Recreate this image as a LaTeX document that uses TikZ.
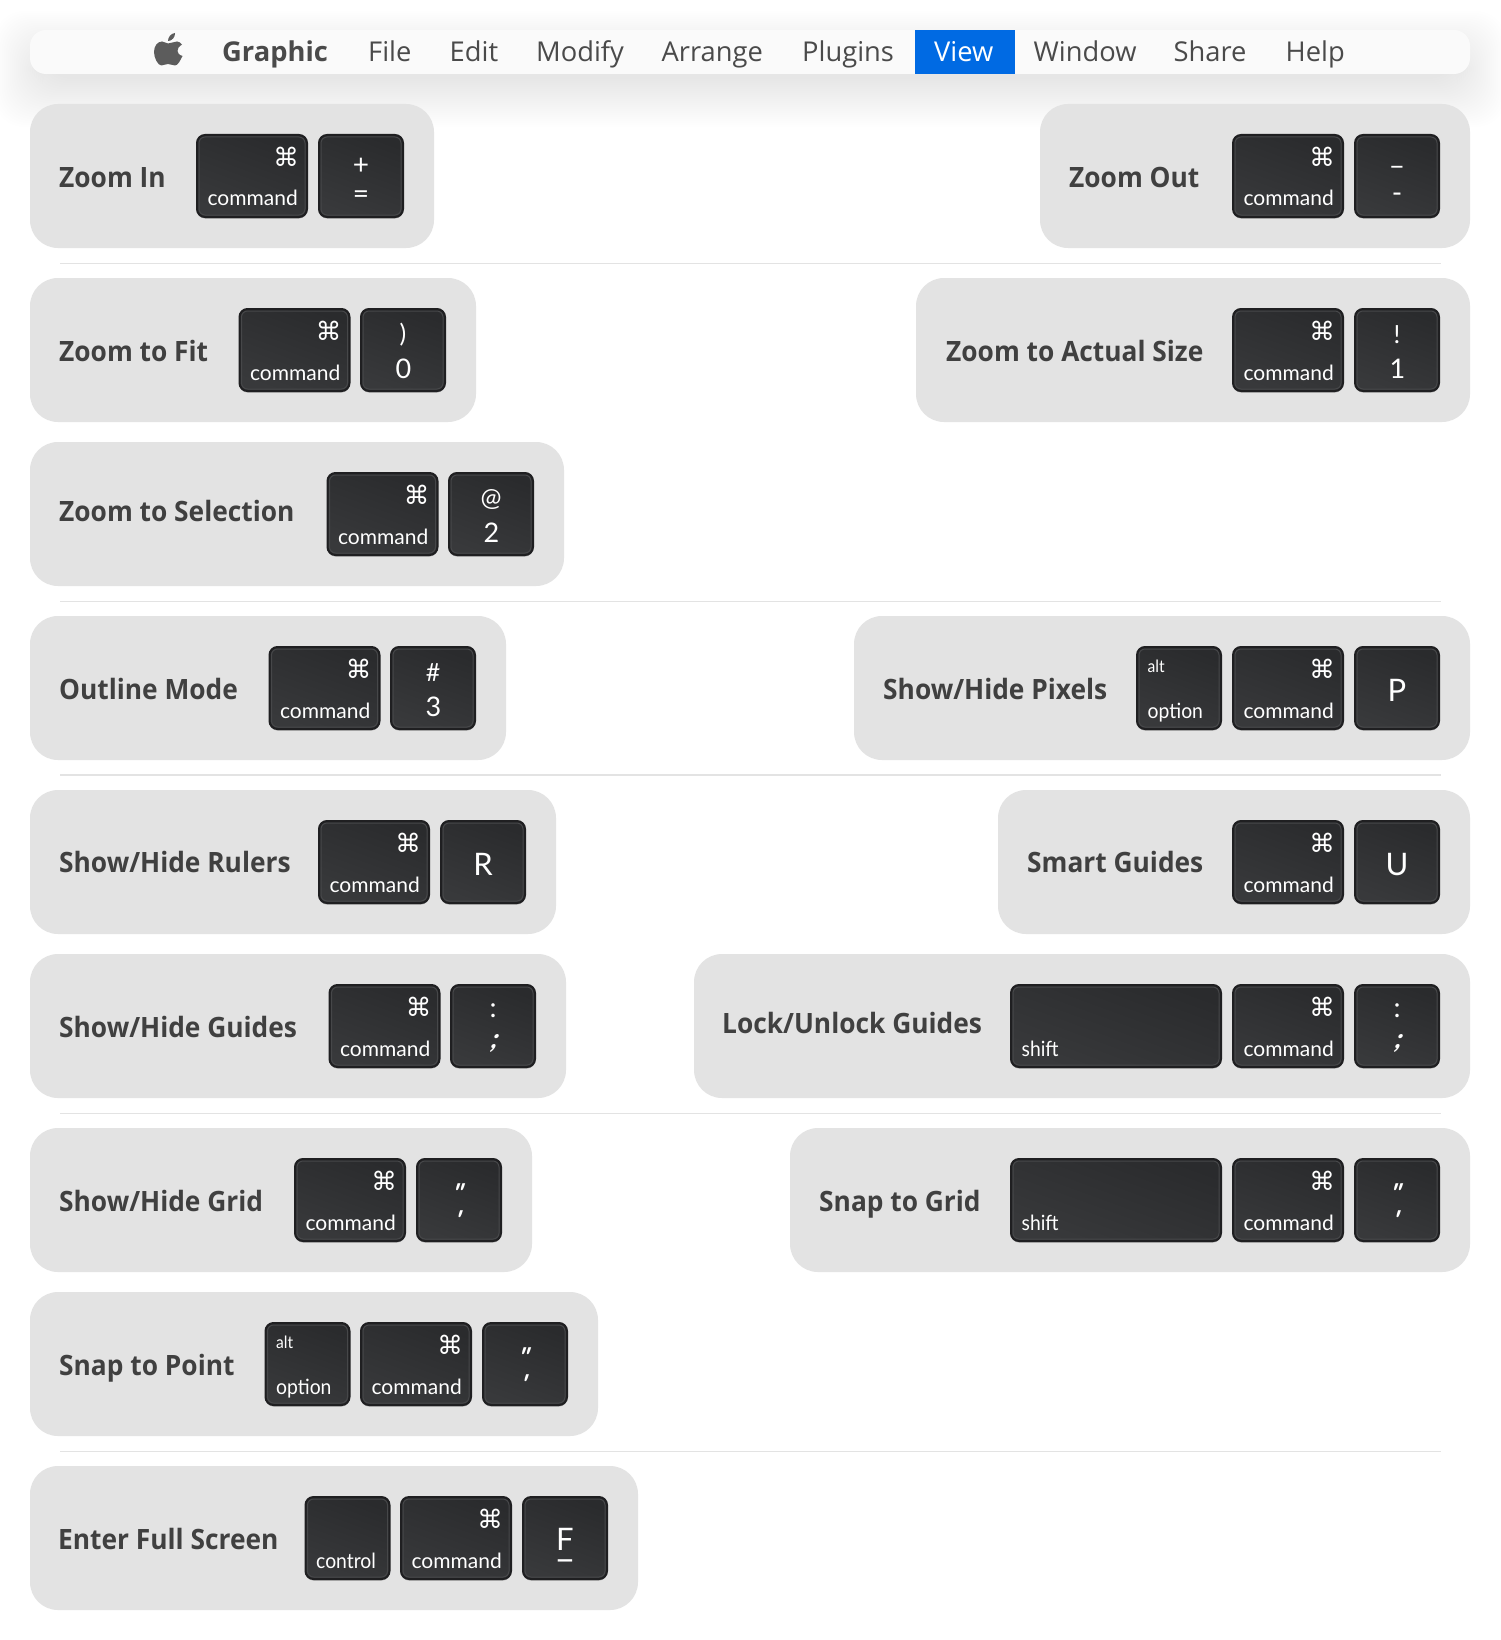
\documentclass[tikz,border=0pt]{standalone}
\usepackage{fontspec}
\usetikzlibrary{shadows}
\newfontfamily\menufont{Open Sans}
\newfontfamily\labelfont{Open Sans}[FakeStretch=0.94]
\newfontfamily\keyfont{Lato}
\newfontfamily\keyslimfont{Lato}[FakeStretch=0.92]
\newfontfamily\slantfont{Lato}[BoldFeatures={FakeSlant=0.32},FakeSlant=0.32]
\newfontfamily\symfont{DejaVu Sans}
\newcommand{\slantquote}[1]{\slantfont\bfseries\fontsize{26}{26}\selectfont#1\kern7pt}

\definecolor{panelgray}{HTML}{E3E3E3}
\definecolor{menubg}{HTML}{FAFAFA}
\definecolor{menutext}{HTML}{4A4A4A}
\definecolor{viewblue}{HTML}{006AE3}
\definecolor{labeltext}{HTML}{404040}
\definecolor{keydark}{HTML}{1F1F21}
\definecolor{keyrim}{HTML}{464749}
\definecolor{keytop}{HTML}{2A2B2D}
\definecolor{keybot}{HTML}{38393B}

\tikzset{
  panelbox/.style={fill=panelgray, rounded corners=28pt, minimum height=144pt, anchor=north west, outer sep=0pt, inner sep=0pt},
  paneltext/.style={anchor=base west, inner sep=0pt, text=labeltext, font=\labelfont\bfseries\fontsize{28}{28}\selectfont},
  menuitem/.style={anchor=base west, inner sep=0pt, text=menutext, font=\menufont\fontsize{27.3}{27}\selectfont},
  keycap/.style={draw=keydark, line width=2pt, top color=keytop, bottom color=keybot, shading angle=-20,
    rounded corners=8pt, minimum height=82pt, anchor=north west, outer sep=0pt, inner sep=0pt,
    drop shadow={shadow xshift=0pt, shadow yshift=-1.5pt, opacity=.3, fill=black},
    path picture={\draw[keyrim, line width=1pt, rounded corners=6pt]
      ([xshift=2pt,yshift=-2pt]path picture bounding box.north west) rectangle
      ([xshift=-2pt,yshift=2pt]path picture bounding box.south east);}},
  keyword/.style={inner sep=0pt, text=white, font=\keyfont\fontsize{21}{21}\selectfont},
  keyslim/.style={inner sep=0pt, text=white, font=\keyslimfont\fontsize{21}{21}\selectfont},
  keytiny/.style={inner sep=0pt, text=white, font=\keyslimfont\fontsize{17}{17}\selectfont},
  keychar/.style={inner sep=0pt, text=white, font=\keyfont\fontsize{28}{28}\selectfont},
  keysmall/.style={inner sep=0pt, text=white, font=\keyfont\fontsize{25}{25}\selectfont},
  keydigit/.style={inner sep=0pt, text=white, font=\keyfont\fontsize{27}{27}\selectfont},
  keyletter/.style={inner sep=0pt, text=white, font=\keyfont\fontsize{31}{31}\selectfont},
  keysym/.style={inner sep=0pt, text=white, font=\symfont\fontsize{25.5}{25}\selectfont}
}

% name, x, y
\newcommand{\cmdkey}[3]{
  \node[keycap, minimum width=110pt] (#1) at (#2+1,#3+1) {};
  \node[keysym] (#1s) at (#2+90,#3+23) {⌘};
  \node[keyword, anchor=base east] (#1w) at (#2+102,#3+72) {command};
}
% name, x, y, top, bottom, top y, bottom y
\newcommand{\charkey}[7]{
  \node[keycap, minimum width=84pt] (#1) at (#2+1,#3+1) {};
  \node[keychar] (#1t) at (#2+43,#3+#6) {#4};
  \node[keychar] (#1b) at (#2+43,#3+#7) {#5};
}
% name, x, y, top, digit
\newcommand{\digitkey}[5]{
  \node[keycap, minimum width=84pt] (#1) at (#2+1,#3+1) {};
  \node[keysmall] (#1t) at (#2+43,#3+27) {#4};
  \node[keydigit] (#1b) at (#2+43.5,#3+61) {#5};
}
% name, x, y, letter
\newcommand{\letterkey}[4]{
  \node[keycap, minimum width=84pt] (#1) at (#2+1,#3+1) {};
  \node[keyletter] (#1t) at (#2+43,#3+44.5) {#4};
}
% name, x, y, top-left, bottom-left, width
\newcommand{\wordkey}[6]{
  \node[keycap, minimum width=#6pt] (#1) at (#2+1,#3+1) {};
  \node[keytiny, anchor=base west] (#1t) at (#2+11.5,#3+26) {#4};
  \node[keyslim, anchor=base west] (#1b) at (#2+11.5,#3+72) {#5};
}

\begin{document}
\begin{tikzpicture}[x=1pt,y=-1pt]
\useasboundingbox (0,0) rectangle (1500,1640);
\fill[white] (0,0) rectangle (1500,1640);

% Menu bar shadow
\foreach \s in {-12,-10,...,36}
  \fill[black, opacity=.0058, rounded corners=30pt] (30-\s,47-\s) rectangle (1470+\s,91+\s);

% Menu bar
\node[fill=menubg, rounded corners=16pt, minimum width=1440pt, minimum height=44pt, anchor=north west, inner sep=0pt, outer sep=0pt] (menubar) at (30,30) {};
\node[fill=viewblue, minimum width=100pt, minimum height=44pt, anchor=north west, inner sep=0pt, outer sep=0pt] (viewbg) at (915,30) {};
\fill[menutext!90!white] (168,43.5) .. controls (171,43.5) and (174,41.5) .. (177,41.5)
  .. controls (179,41.5) and (181,43) .. (182,44.5)
  .. controls (178.5,47) and (177.5,48.5) .. (177.5,51)
  .. controls (177.5,53) and (179,55) .. (182.5,56)
  .. controls (180.5,60) and (178,65.5) .. (175,65.5)
  .. controls (172.5,65.5) and (171,64) .. (168,64)
  .. controls (165,64) and (163.5,65.5) .. (161.5,65.5)
  .. controls (158,65.5) and (154,58) .. (154,52)
  .. controls (154,46) and (157.5,41.5) .. (162,41.5)
  .. controls (164,41.5) and (166,43.5) .. (168,43.5) -- cycle;
\fill[menutext!90!white] (168,41) .. controls (168,37) and (171,33.5) .. (175,33)
  .. controls (175.3,37) and (172,41) .. (168,41) -- cycle;
\node[menuitem, font=\menufont\bfseries\fontsize{27.3}{27}\selectfont] (mgraphic) at (222,62) {Graphic};
\node[menuitem] (mfile) at (368,62) {File};
\node[menuitem] (medit) at (449.5,62) {Edit};
\node[menuitem] (mmodify) at (536,62) {Modify};
\node[menuitem] (marrange) at (661.5,62) {Arrange};
\node[menuitem] (mplugins) at (802,62) {Plugins};
\node[menuitem, text=white] (mview) at (934,62) {View};
\node[menuitem] (mwindow) at (1033.5,62) {Window};
\node[menuitem] (mshare) at (1173.5,62) {Share};
\node[menuitem] (mhelp) at (1285.5,62) {Help};

% Separators
\draw[panelgray, line width=1.6pt] (60,263.5) -- (1441,263.5);
\draw[panelgray, line width=1.6pt] (60,601.5) -- (1441,601.5);
\draw[panelgray, line width=1.6pt] (60,775) -- (1441,775);
\draw[panelgray, line width=1.6pt] (60,1113.5) -- (1441,1113.5);
\draw[panelgray, line width=1.6pt] (60,1451.5) -- (1441,1451.5);

% Zoom In, Zoom Out
\node[panelbox, minimum width=404pt] (zoomin) at (30,104) {};
\node[paneltext] (zoominl) at (59,187.5) {Zoom In};
\cmdkey{zoominc}{196}{134}
\charkey{zoomink}{318}{134}{+}{=}{32}{63}
\node[panelbox, minimum width=430pt] (zoomout) at (1040,104) {};
\node[paneltext] (zoomoutl) at (1069,187.5) {Zoom Out};
\cmdkey{zoomoutc}{1232}{134}
\charkey{zoomoutk}{1354}{134}{–}{-}{37}{64}

% Zoom to Fit, Zoom to Actual Size
\node[panelbox, minimum width=446pt] (zoomfit) at (30,278) {};
\node[paneltext] (zoomfitl) at (59,361) {Zoom to Fit};
\cmdkey{zoomfitc}{238.5}{308}
\digitkey{zoomfitk}{360}{308}{)}{0}
\node[panelbox, minimum width=554pt] (zoomactual) at (916,278) {};
\node[paneltext] (zoomactuall) at (946,361) {Zoom to Actual Size};
\cmdkey{zoomactualc}{1232}{308}
\digitkey{zoomactualk}{1354}{308}{!}{1}

% Zoom to Selection
\node[panelbox, minimum width=534pt] (zoomsel) at (30,442) {};
\node[paneltext] (zoomsell) at (59,521) {Zoom to Selection};
\cmdkey{zoomselc}{326.5}{472}
\digitkey{zoomselk}{448}{472}{@}{2}

% Outline Mode, Show/Hide Pixels
\node[panelbox, minimum width=476pt] (outline) at (30,616) {};
\node[paneltext] (outlinel) at (59,699) {Outline Mode};
\cmdkey{outlinec}{268.5}{646}
\digitkey{outlinek}{390}{646}{\#}{3}
\node[panelbox, minimum width=616pt] (pixels) at (854,616) {};
\node[paneltext] (pixelsl) at (883,699) {Show/Hide Pixels};
\wordkey{pixelso}{1136}{646}{alt}{option}{84}
\cmdkey{pixelsc}{1232}{646}
\letterkey{pixelsk}{1354}{646}{P}

% Show/Hide Rulers, Smart Guides
\node[panelbox, minimum width=526pt] (rulers) at (30,790) {};
\node[paneltext] (rulersl) at (59,872.5) {Show/Hide Rulers};
\cmdkey{rulersc}{318}{820}
\letterkey{rulersk}{440}{820}{R}
\node[panelbox, minimum width=472pt] (smart) at (998,790) {};
\node[paneltext] (smartl) at (1027,872.5) {Smart Guides};
\cmdkey{smartc}{1232}{820}
\letterkey{smartk}{1354}{820}{U}

% Show/Hide Guides, Lock/Unlock Guides
\node[panelbox, minimum width=536pt] (guides) at (30,954) {};
\node[paneltext] (guidesl) at (59,1037) {Show/Hide Guides};
\cmdkey{guidesc}{328.5}{984}
\charkey{guidesk}{450}{984}{:}{\slantfont\bfseries;}{27}{59}
\node[panelbox, minimum width=776pt] (lock) at (694,954) {};
\node[paneltext] (lockl) at (722,1033) {Lock/Unlock Guides};
\wordkey{locks}{1010}{984}{}{shift}{210}
\cmdkey{lockc}{1232}{984}
\charkey{lockk}{1354}{984}{:}{\slantfont\bfseries;}{27}{59}

% Show/Hide Grid, Snap to Grid
\node[panelbox, minimum width=502pt] (grid) at (30,1128) {};
\node[paneltext] (gridl) at (59,1211) {Show/Hide Grid};
\cmdkey{gridc}{294}{1158}
\charkey{gridk}{416}{1158}{\slantquote{"}}{\slantquote{'}}{35}{62}
\node[panelbox, minimum width=680pt] (snapgrid) at (790,1128) {};
\node[paneltext] (snapgridl) at (819,1211) {Snap to Grid};
\wordkey{snapgrids}{1010}{1158}{}{shift}{210}
\cmdkey{snapgridc}{1232}{1158}
\charkey{snapgridk}{1354}{1158}{\slantquote{"}}{\slantquote{'}}{35}{62}

% Snap to Point
\node[panelbox, minimum width=568pt] (snappoint) at (30,1292) {};
\node[paneltext] (snappointl) at (59,1375) {Snap to Point};
\wordkey{snappointo}{264.5}{1322}{alt}{option}{84}
\cmdkey{snappointc}{360}{1322}
\charkey{snappointk}{482}{1322}{\slantquote{"}}{\slantquote{'}}{35}{62}

% Enter Full Screen
\node[panelbox, minimum width=608pt] (fullscreen) at (30,1466) {};
\node[paneltext] (fullscreenl) at (58,1549) {Enter Full Screen};
\wordkey{fullscreeno}{304.5}{1496}{}{control}{84}
\cmdkey{fullscreenc}{400}{1496}
\letterkey{fullscreenk}{522}{1496}{\raisebox{2pt}{F}}
\node[keyletter, font=\keyfont\fontsize{36}{36}\selectfont] (fullscreenu) at (565,1566) {–};
\end{tikzpicture}
\end{document}
